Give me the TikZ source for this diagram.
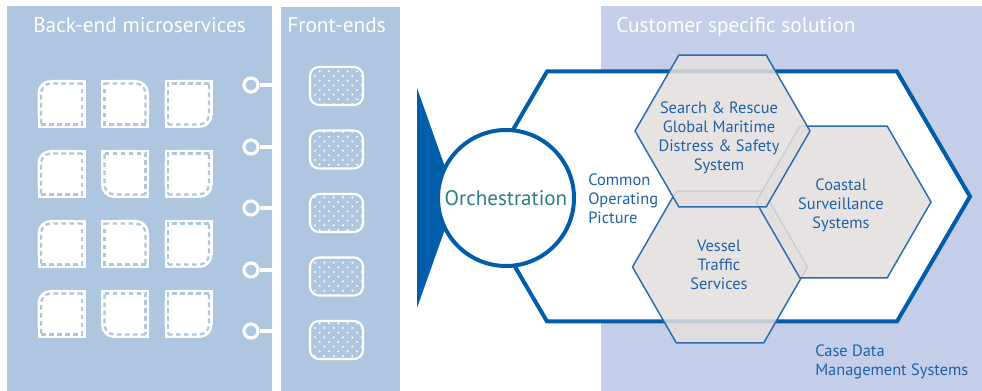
\documentclass[tikz,border=0pt]{standalone}
\usepackage{fontspec}
\setmainfont{PT Sans}
\usetikzlibrary{shapes.geometric,patterns}

\definecolor{panelblue}{HTML}{AFC6E0}
\definecolor{custblue}{HTML}{C5CEE8}
\definecolor{dkblue}{HTML}{005DA9}
\definecolor{txtblue}{HTML}{1F62A6}
\definecolor{orchteal}{HTML}{2C7E88}
\definecolor{hexgray}{HTML}{E3DFDD}
\definecolor{hexline}{HTML}{2B6CAE}

% dots for the front-end tiles
\pgfdeclarepatternformonly{fedots}{\pgfqpoint{-1pt}{-1pt}}{\pgfqpoint{8pt}{8pt}}{\pgfqpoint{7pt}{7pt}}{%
  \pgfpathcircle{\pgfqpoint{1.75pt}{1.75pt}}{0.85pt}%
  \pgfpathcircle{\pgfqpoint{5.25pt}{5.25pt}}{0.85pt}%
  \pgfusepath{fill}}

% one microservice tile: centre x, centre y, direction of its round corner
\newcommand{\svctile}[4]{%
  \fill[white,rounded corners=9.75pt] ({#1-24},{#2-24}) rectangle ({#1+24},{#2+24});
  \fill[white] ({#1+(#3)*11},{#2+(#4)*24}) rectangle ({#1-(#3)*24},{#2-(#4)*24});
  \fill[white] ({#1+(#3)*24},{#2+(#4)*11}) rectangle ({#1-(#3)*24},{#2-(#4)*24});
  \draw[svcdash,rounded corners=7.5pt] ({#1-(#3)*20.5},{#2+(#4)*20.5}) -- ({#1+(#3)*20.5},{#2+(#4)*20.5}) -- ({#1+(#3)*20.5},{#2-(#4)*20.5});
  \draw[svcdash] ({#1+(#3)*20.5},{#2-(#4)*20.5}) -- ({#1-(#3)*20.5},{#2-(#4)*20.5}) -- ({#1-(#3)*20.5},{#2+(#4)*20.5});
}

\begin{document}
\begin{tikzpicture}[x=0.75pt,y=-0.75pt]
	\tikzstyle{svcdash} = [panelblue,line width=1.7pt,dash pattern=on 3.5pt off 2.5pt]
	\tikzstyle{fetile} = [rectangle,rounded corners=6.75pt,draw=white,line width=1.6pt,minimum width=39.75pt,minimum height=28.5pt,pattern=fedots,pattern color=white]
	\tikzstyle{plug} = [circle,draw=white,line width=2.4pt,minimum size=10.5pt,inner sep=0pt]
	\tikzstyle{plugline} = [white,line width=2.6pt]
	\tikzstyle{title} = [anchor=base west,inner sep=0pt,text=white,font=\fontsize{16}{18}\selectfont]
	\tikzstyle{hexa} = [regular polygon,regular polygon sides=6,minimum size=131.25pt,inner sep=0pt,draw=hexline,line width=1.1pt,fill=hexgray,fill opacity=0.85]
	\tikzstyle{label} = [align=center,inner sep=0pt,text=txtblue,font=\fontsize{12.3}{14.25}\selectfont]
	
	\useasboundingbox (0,0) rectangle (982,391);
	
	% panels
	\fill[panelblue] (7,6) rectangle (272,391);
	\fill[panelblue] (281,7) rectangle (400,391);
	\fill[custblue] (601,6) rectangle (982,391);
	
	\node[title] (backend) at (33,33) {Back-end microservices};
	\node[title] (frontend) at (287,33) {Front-ends};
	\node[title] (customer) at (616,33) {Customer specific solution};
	
	% back-end tiles
	\foreach \cx/\cy/\sx/\sy in {61.5/104/-1/-1, 125/104/1/-1, 188.5/104/1/1,
		61.5/174/-1/-1, 125/174/-1/1, 188.5/174/1/1,
		61.5/244/-1/-1, 125/244/1/-1, 188.5/244/1/1,
		61.5/314/-1/-1, 125/314/-1/1, 188.5/314/1/1}
		\svctile{\cx}{\cy}{\sx}{\sy};
	
	% plugs
	\foreach \i/\y in {1/85,2/147,3/208,4/270,5/331} {
		\node[plug] (p\i) at (251,\y) {};
		\coordinate (g\i) at (277,\y);
		\path[plugline] (p\i) edge (g\i);
	}
	
	% front-end tiles
	\foreach \i/\y in {1/86,2/149.5,3/213,4/276.5,5/340}
		\node[fetile] (fe\i) at (336.5,\y) {};
	
	% solution arrow
	\fill[dkblue] (417,88) -- (456,198) -- (417,308) -- cycle;
	\draw[dkblue,line width=3pt,fill=white,line join=miter] (547,71.5) -- (897,71.5) -- (970,196.5) -- (897,321.5) -- (547,321.5) -- (474,196.5) -- cycle;
	
	\node[circle,draw=dkblue,line width=3pt,fill=white,minimum size=102pt,inner sep=0pt,text=orchteal,font=\fontsize{15.8}{18}\selectfont] (orch) at (506,198) {Orchestration};
	
	\node[label,align=left,anchor=west] (cop) at (588,199) {Common\\Operating\\Picture};
	
	% systems
	\node[hexa] (vts) at (720,267) {};
	\node[hexa] (css) at (843.5,202) {};
	\node[hexa] (sar) at (722.5,131) {};
	\node[label] (vtstext) at (719,265) {Vessel\\Traffic\\Services};
	\node[label] (csstext) at (841,205) {Coastal\\Surveillance\\Systems};
	\node[label] (sartext) at (719,137.5) {Search \& Rescue\\Global Maritime\\Distress \& Safety\\System};
	
	\node[label,align=left,anchor=west] (cdms) at (815,362) {Case Data\\Management Systems};
\end{tikzpicture}
\end{document}
